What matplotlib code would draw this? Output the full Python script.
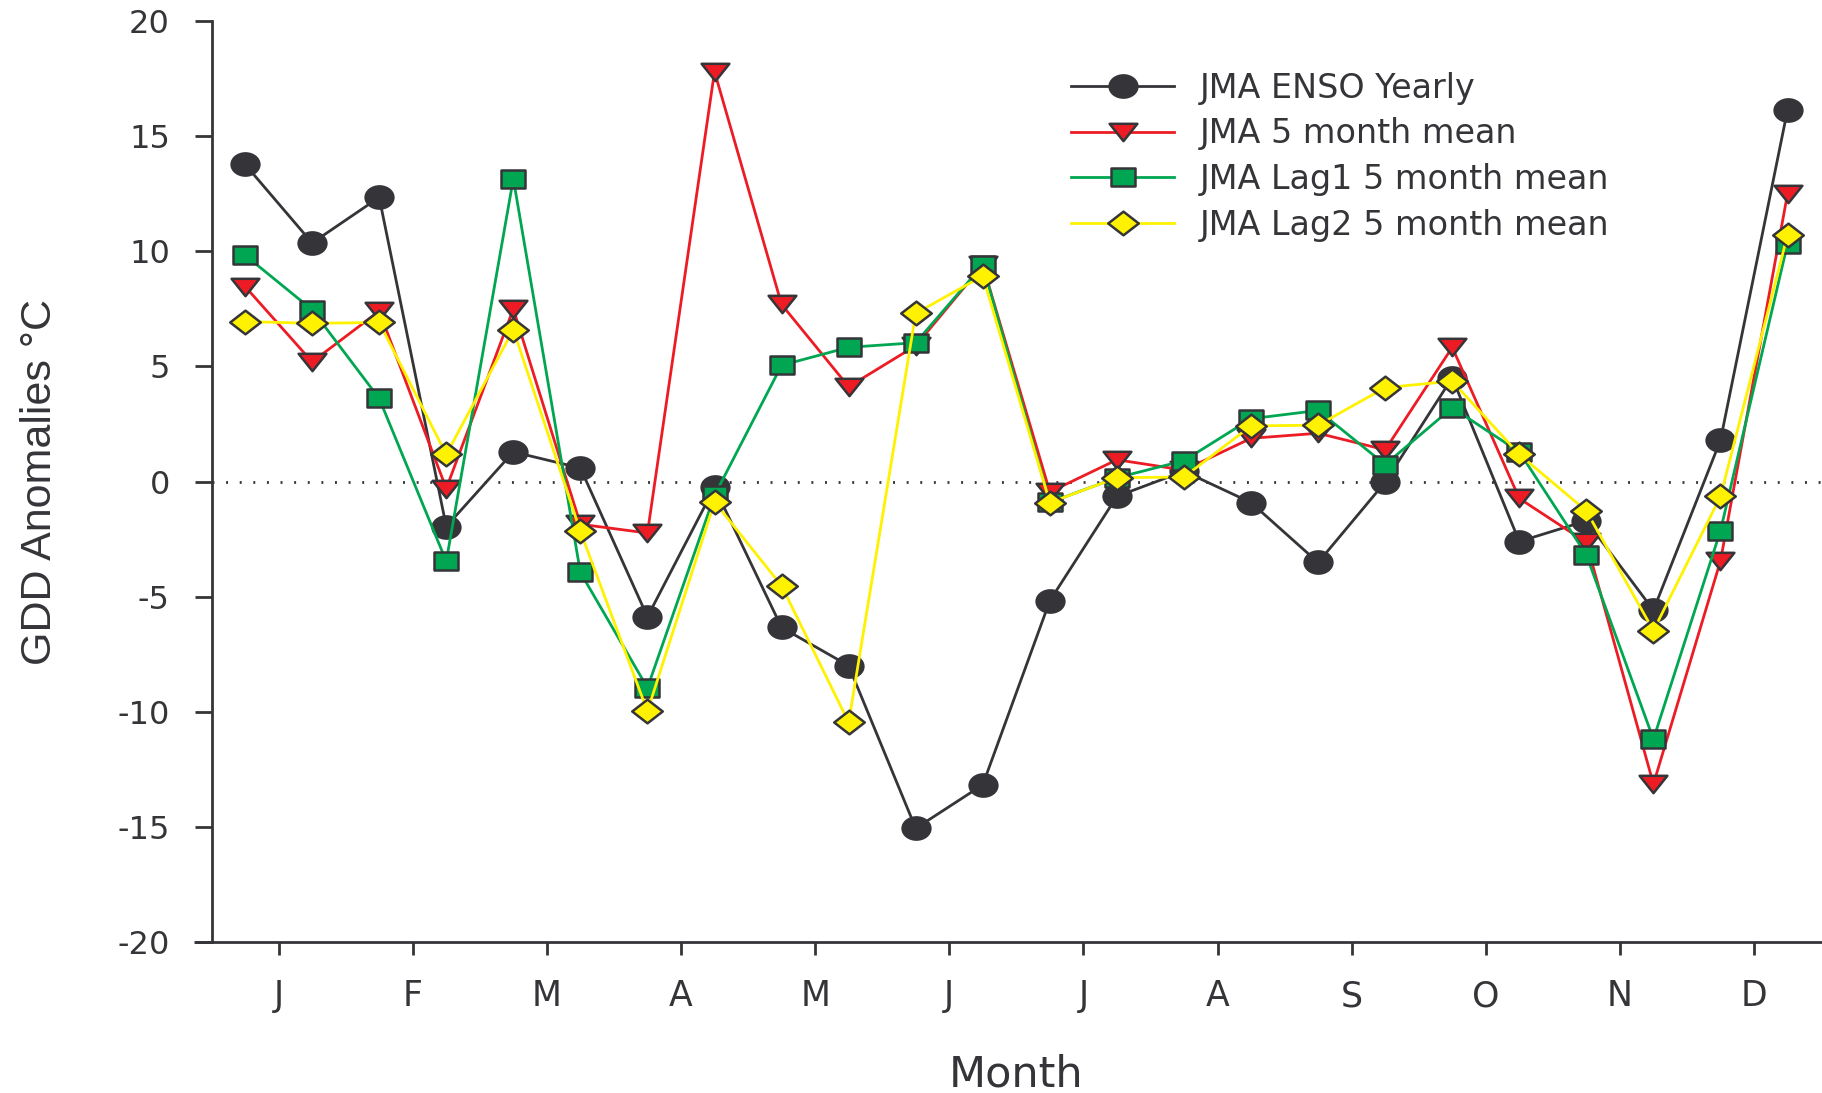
import numpy as np
import matplotlib
matplotlib.use("Agg")
import matplotlib.pyplot as plt
from matplotlib.path import Path
from matplotlib.markers import MarkerStyle
from matplotlib.transforms import Affine2D

plt.rcParams["axes.unicode_minus"] = False

# month tick labels, two readings per month (early / late)
months = ["J", "F", "M", "A", "M", "J", "J", "A", "S", "O", "N", "D"]

enso_yearly = [13.77, 10.36, 12.34, -1.95, 1.29, 0.59, -5.87, -0.25,
               -6.33, -7.99, -15.05, -13.16, -5.17, -0.64, 0.45, -0.91,
               -3.51, -0.02, 4.51, -2.60, -1.70, -5.58, 1.80, 16.14]
mean_5m = [8.47, 5.20, 7.40, -0.30, 7.50, -1.85, -2.23, 17.80,
           7.69, 4.12, 5.90, 9.40, -0.45, 0.95, 0.50, 1.88,
           2.10, 1.38, 5.83, -0.73, -2.64, -13.13, -3.44, 12.50]
lag1_5m = [9.83, 7.46, 3.61, -3.46, 13.15, -3.94, -8.95, -0.60,
           5.05, 5.83, 6.03, 9.40, -0.90, 0.17, 0.91, 2.73,
           3.09, 0.74, 3.21, 1.29, -3.18, -11.18, -2.13, 10.33]
lag2_5m = [6.95, 6.87, 6.91, 1.18, 6.60, -2.16, -9.97, -0.88,
           -4.52, -10.45, 7.30, 8.93, -0.91, 0.17, 0.20, 2.42,
           2.45, 4.08, 4.36, 1.18, -1.27, -6.47, -0.64, 10.71]

labels = ["JMA ENSO Yearly", "JMA 5 month mean",
          "JMA Lag1 5 month mean", "JMA Lag2 5 month mean"]

month_pos = np.arange(1, len(months) + 1)
x = (month_pos[:, None] + np.array([-0.25, 0.25])).ravel()

# markers in the original are a bit wider than tall
def closed(verts):
    verts = verts + [verts[0]]
    codes = [Path.MOVETO] + [Path.LINETO] * (len(verts) - 2) + [Path.CLOSEPOLY]
    return Path(verts, codes)

ellipse = Affine2D().scale(1.25, 1).transform_path(Path.unit_circle())
square = closed([(-1.3, -1), (1.3, -1), (1.3, 1), (-1.3, 1)])
tri_down = closed([(-1.6, 1), (1.6, 1), (0, -1)])
diamond = closed([(0, 1), (1.29, 0), (0, -1), (-1.29, 0)])

dark = "#353539"
series = [
    (enso_yearly, dark, ellipse, 20, dark),
    (mean_5m, "#ed1c24", tri_down, 20, dark),
    (lag1_5m, "#00a651", square, 16.7, dark),
    (lag2_5m, "#fff200", diamond, 22, dark),
]

fig = plt.figure(figsize=(18.22, 10.93), dpi=100)
ax = fig.add_axes([0.1161, 0.1378, 0.8834, 0.8431])

ax.axhline(0, color=dark, lw=2, ls=(0, (0.7, 4.2)), zorder=1)

handles = []
for i, (vals, col, mk, ms, ec) in enumerate(series):
    h, = ax.plot(x, vals, color=col, lw=2,
                 marker=MarkerStyle(mk, joinstyle="miter"), markersize=ms,
                 markerfacecolor=col, markeredgecolor=ec, markeredgewidth=1.8,
                 zorder=2 + i, clip_on=False)
    handles.append(h)

ax.set_xlim(0.5, 12.5)
ax.set_ylim(-20, 20)
ax.set_xticks(month_pos)
ax.set_xticklabels(months)
ax.set_yticks(np.arange(-20, 21, 5))

for s in ["top", "right"]:
    ax.spines[s].set_visible(False)
for s in ["left", "bottom"]:
    ax.spines[s].set_color(dark)
    ax.spines[s].set_linewidth(2)
# bottom axis line runs a little past the y axis
ax.plot([-0.0112, 0], [0, 0], transform=ax.transAxes, color=dark, lw=2,
        clip_on=False, solid_capstyle="butt")

ax.tick_params(axis="x", direction="out", length=9.6, width=2, color=dark,
               pad=17, labelsize=25, labelcolor=dark)
ax.tick_params(axis="y", direction="out", length=12, width=2, color=dark,
               pad=18, labelsize=23, labelcolor=dark)

ax.set_xlabel("Month", fontsize=31, color=dark, va="baseline")
ax.xaxis.set_label_coords(0.5, -0.1566)
ax.set_ylabel("GDD Anomalies °C", fontsize=31, color=dark, va="baseline",
              family="Liberation Sans")
ax.yaxis.set_label_coords(-0.1000, 0.5)

leg = ax.legend(handles, labels, loc="upper left",
                bbox_to_anchor=(0.5878, 0.9345), bbox_transform=fig.transFigure,
                frameon=False, fontsize=24, numpoints=1, handlelength=3.1,
                handletextpad=0.75, labelspacing=0.38, borderpad=0,
                borderaxespad=0)
for t in leg.get_texts():
    t.set_color(dark)

fig.savefig("out.png", dpi=100)
